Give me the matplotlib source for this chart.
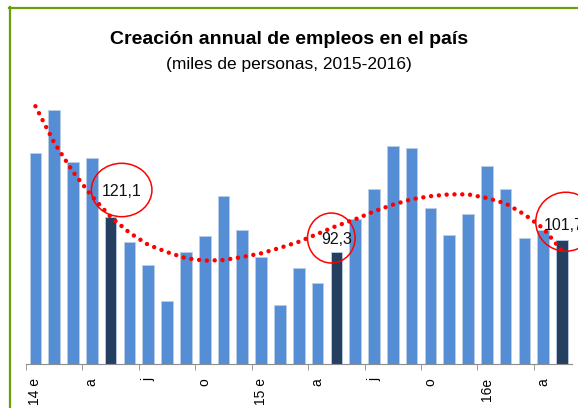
import matplotlib.pyplot as plt
from matplotlib.patches import Ellipse
from matplotlib.lines import Line2D

# creacion anual de empleos, miles de personas (ene-2014 .. may-2016)
meses = list(range(29))
empleos = [173.8, 208.9, 166.1, 169.4, 121.1, 100.6, 81.4, 51.5, 92.1, 105.3,
           138.2, 110.2, 87.7, 48.2, 78.9, 66.3, 92.3, 119.0, 143.6, 179.0,
           177.9, 128.6, 106.1, 123.4, 162.8, 143.6, 103.6, 110.2, 101.7]
# linea de tendencia (punteada roja)
tendencia = [212, 182, 158, 138, 121, 108, 98, 92, 87, 85, 85.5, 88, 91, 95.5,
             100.5, 107, 113.5, 119, 125.5, 131, 135.5, 138, 139.5, 139.5,
             136.5, 132, 123, 111.5, 93]
etiquetas = ["14 e", "a", "j", "o", "15 e", "a", "j", "o", "16e", "a"]
destacados = [4, 16, 28]

plt.rcParams["font.family"] = ["Liberation Sans", "DejaVu Sans"]

fig = plt.figure(figsize=(5.78, 4.08), dpi=100)
ax = fig.add_axes([26/578, 44/408, 545.5/578, 225*1.216/408])

colores = ["#243F60" if i in destacados else "#558ED5" for i in meses]
ax.bar(meses, empleos, width=0.62, color=colores, edgecolor="#B9CDE5", linewidth=0.6, zorder=2)

ax.plot(meses, tendencia, color="red", linewidth=3.2, linestyle=(0, (0.01, 1.75)),
        dash_capstyle="round", zorder=3)

# etiquetas con circulo rojo
# (dx texto, dy texto, ha, dx elipse, dy elipse, ancho, alto)
ajustes = [(0.585, 20.8, "center", 0.585, 22, 3.22, 43.9),
           (0.03, 9.7, "center", -0.27, 11.3, 2.53, 41.1),
           (-1.0, 12.6, "left", 0.2, 15.3, 3.2, 48.5)]
for i, aj in zip(destacados, ajustes):
    v = empleos[i]
    ax.text(i + aj[0], v + aj[1], f"{v:.1f}".replace(".", ","), ha=aj[2], va="center",
            fontsize=11.5, color="#111111", zorder=5, clip_on=False)
    ax.add_patch(Ellipse((i + aj[3], v + aj[4]), aj[5], aj[6], fill=False,
                         edgecolor="red", linewidth=1.1, zorder=4, clip_on=False))

ax.set_xlim(-0.5, 28.5)
ax.set_ylim(0, 225)
for s in ["top", "right", "left"]:
    ax.spines[s].set_visible(False)
ax.spines["bottom"].set_color("#8C8C8C")
ax.set_yticks([])
ax.set_xticks(meses[::3])
ax.set_xticklabels(etiquetas, rotation=90, va="top", fontsize=10)
ax.set_xticks([i - 0.5 for i in meses[::3]], minor=True)
ax.tick_params(axis="x", which="major", length=0, pad=10)
ax.tick_params(axis="x", which="minor", length=4, color="#8C8C8C", direction="out")

fig.text(0.5, 1 - 40/408, "Creación annual de empleos en el país", ha="center", va="center",
         fontsize=14, fontweight="bold")
fig.text(0.5, 1 - 64/408, "(miles de personas, 2015-2016)", ha="center", va="center",
         fontsize=12.5)

verde = "#6A9E0A"
fig.add_artist(Line2D([10/578, 10/578], [0, 1 - 7/408], color=verde, linewidth=1.6))
fig.add_artist(Line2D([9.4/578, 1], [1 - 7.8/408, 1 - 7.8/408], color=verde, linewidth=1.6))

fig.savefig("out.png", dpi=100)
